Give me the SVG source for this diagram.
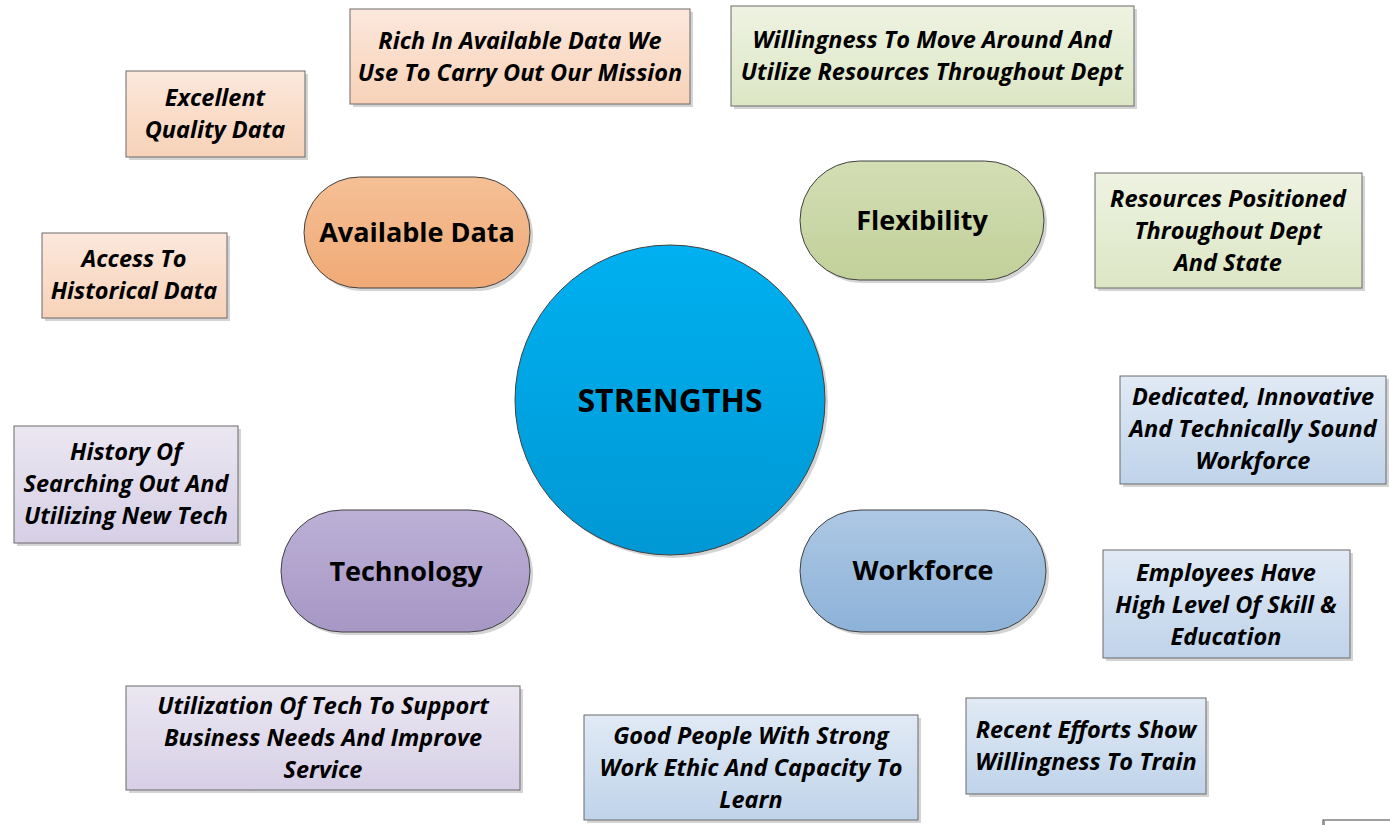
<svg xmlns="http://www.w3.org/2000/svg" width="1390" height="825" viewBox="0 0 1390 825">
<defs>
<linearGradient id="gBlue" x1="0" y1="0" x2="0" y2="1"><stop offset="0" stop-color="#00b0f0"/><stop offset="1" stop-color="#0098d4"/></linearGradient>
<linearGradient id="gOr" x1="0" y1="0" x2="0" y2="1"><stop offset="0" stop-color="#f5bf95"/><stop offset="1" stop-color="#f0aa76"/></linearGradient>
<linearGradient id="gGr" x1="0" y1="0" x2="0" y2="1"><stop offset="0" stop-color="#d3deb4"/><stop offset="1" stop-color="#c2d09a"/></linearGradient>
<linearGradient id="gPu" x1="0" y1="0" x2="0" y2="1"><stop offset="0" stop-color="#bcb0d6"/><stop offset="1" stop-color="#a697c5"/></linearGradient>
<linearGradient id="gWf" x1="0" y1="0" x2="0" y2="1"><stop offset="0" stop-color="#adc8e4"/><stop offset="1" stop-color="#8db2d8"/></linearGradient>
<linearGradient id="lOr" x1="0" y1="0" x2="0" y2="1"><stop offset="0" stop-color="#fce8dc"/><stop offset="1" stop-color="#f7d2b8"/></linearGradient>
<linearGradient id="lGr" x1="0" y1="0" x2="0" y2="1"><stop offset="0" stop-color="#eef3e2"/><stop offset="1" stop-color="#dce6c4"/></linearGradient>
<linearGradient id="lPu" x1="0" y1="0" x2="0" y2="1"><stop offset="0" stop-color="#ebe7f1"/><stop offset="1" stop-color="#d6cfe6"/></linearGradient>
<linearGradient id="lBl" x1="0" y1="0" x2="0" y2="1"><stop offset="0" stop-color="#e1eaf5"/><stop offset="1" stop-color="#bfd3ea"/></linearGradient>
</defs>
<style>
.sh{fill:#d4d4d4}
.box{stroke:#6a6a6a;stroke-width:1}
.hub{stroke:#404040;stroke-width:1}
.t{font-family:"Open Sans","Noto Sans","Liberation Sans",sans-serif;font-weight:bold;font-style:italic;font-size:23.5px;fill:#000;text-anchor:middle}
.h{font-family:"Open Sans","Noto Sans","Liberation Sans",sans-serif;font-weight:bold;font-size:27px;fill:#000;text-anchor:middle}
</style>
<rect width="1390" height="825" fill="#fff"/>
<g id="connectors"/>

<g id="strengths">
<circle cx="673" cy="403" r="155" class="sh"/>
<circle cx="670" cy="400" r="155" fill="url(#gBlue)" class="hub"/>
<text x="670" y="412" class="h" style="font-size:32px">STRENGTHS</text>
</g>

<g id="available-data">
<rect x="307" y="180" width="226" height="111" rx="55.5" class="sh"/>
<rect x="304" y="177" width="226" height="111" rx="55.5" fill="url(#gOr)" class="hub"/>
<text x="417" y="242" class="h">Available Data</text>
</g>

<g id="flexibility">
<rect x="803" y="164" width="244" height="119" rx="59.5" class="sh"/>
<rect x="800" y="161" width="244" height="119" rx="59.5" fill="url(#gGr)" class="hub"/>
<text x="922" y="230" class="h">Flexibility</text>
</g>

<g id="technology">
<rect x="284" y="513" width="249" height="122" rx="61" class="sh"/>
<rect x="281" y="510" width="249" height="122" rx="61" fill="url(#gPu)" class="hub"/>
<text x="406" y="581" class="h">Technology</text>
</g>

<g id="workforce">
<rect x="803" y="513" width="246" height="122" rx="61" class="sh"/>
<rect x="800" y="510" width="246" height="122" rx="61" fill="url(#gWf)" class="hub"/>
<text x="923" y="580" class="h">Workforce</text>
</g>

<g id="excellent-quality">
<rect x="129" y="74" width="179" height="86" class="sh"/>
<rect x="126" y="71" width="179" height="86" fill="url(#lOr)" class="box"/>
<text x="215" y="106" class="t">Excellent</text>
<text x="215" y="138" class="t">Quality Data</text>
</g>

<g id="rich-data">
<rect x="353" y="12" width="340" height="95" class="sh"/>
<rect x="350" y="9" width="340" height="95" fill="url(#lOr)" class="box"/>
<text x="520" y="49" class="t">Rich In Available Data We</text>
<text x="520" y="81" class="t">Use To Carry Out Our Mission</text>
</g>

<g id="historical-data">
<rect x="45" y="236" width="185" height="85" class="sh"/>
<rect x="42" y="233" width="185" height="85" fill="url(#lOr)" class="box"/>
<text x="134" y="267" class="t">Access To</text>
<text x="134" y="299" class="t">Historical Data</text>
</g>

<g id="willingness-move">
<rect x="734" y="9" width="403" height="100" class="sh"/>
<rect x="731" y="6" width="403" height="100" fill="url(#lGr)" class="box"/>
<text x="932" y="48" class="t">Willingness To Move Around And</text>
<text x="932" y="80" class="t">Utilize Resources Throughout Dept</text>
</g>

<g id="resources-positioned">
<rect x="1098" y="176" width="267" height="115" class="sh"/>
<rect x="1095" y="173" width="267" height="115" fill="url(#lGr)" class="box"/>
<text x="1228" y="207" class="t">Resources Positioned</text>
<text x="1228" y="239" class="t">Throughout Dept</text>
<text x="1228" y="271" class="t">And State</text>
</g>

<g id="dedicated-workforce">
<rect x="1123" y="379" width="266" height="108" class="sh"/>
<rect x="1120" y="376" width="266" height="108" fill="url(#lBl)" class="box"/>
<text x="1253" y="405" class="t">Dedicated, Innovative</text>
<text x="1253" y="437" class="t">And Technically Sound</text>
<text x="1253" y="469" class="t">Workforce</text>
</g>

<g id="employees-skill">
<rect x="1106" y="553" width="247" height="108" class="sh"/>
<rect x="1103" y="550" width="247" height="108" fill="url(#lBl)" class="box"/>
<text x="1226" y="581" class="t">Employees Have</text>
<text x="1226" y="613" class="t">High Level Of Skill &amp;</text>
<text x="1226" y="645" class="t">Education</text>
</g>

<g id="recent-efforts">
<rect x="969" y="701" width="240" height="96" class="sh"/>
<rect x="966" y="698" width="240" height="96" fill="url(#lBl)" class="box"/>
<text x="1086" y="738" class="t">Recent Efforts Show</text>
<text x="1086" y="770" class="t">Willingness To Train</text>
</g>

<g id="good-people">
<rect x="587" y="718" width="334" height="105" class="sh"/>
<rect x="584" y="715" width="334" height="105" fill="url(#lBl)" class="box"/>
<text x="751" y="744" class="t">Good People With Strong</text>
<text x="751" y="776" class="t">Work Ethic And Capacity To</text>
<text x="751" y="808" class="t">Learn</text>
</g>

<g id="utilization-tech">
<rect x="129" y="689" width="394" height="104" class="sh"/>
<rect x="126" y="686" width="394" height="104" fill="url(#lPu)" class="box"/>
<text x="323" y="714" class="t">Utilization Of Tech To Support</text>
<text x="323" y="746" class="t">Business Needs And Improve</text>
<text x="323" y="778" class="t">Service</text>
</g>

<g id="history-tech">
<rect x="17" y="429" width="224" height="117" class="sh"/>
<rect x="14" y="426" width="224" height="117" fill="url(#lPu)" class="box"/>
<text x="126" y="460" class="t">History Of</text>
<text x="126" y="492" class="t">Searching Out And</text>
<text x="126" y="524" class="t">Utilizing New Tech</text>
</g>

<g id="corner-box">
<rect x="1323" y="820" width="80" height="20" fill="#fff" stroke="#404040" stroke-width="1"/>
<rect x="1323" y="821" width="2" height="4" fill="#999"/>
</g>
</svg>
